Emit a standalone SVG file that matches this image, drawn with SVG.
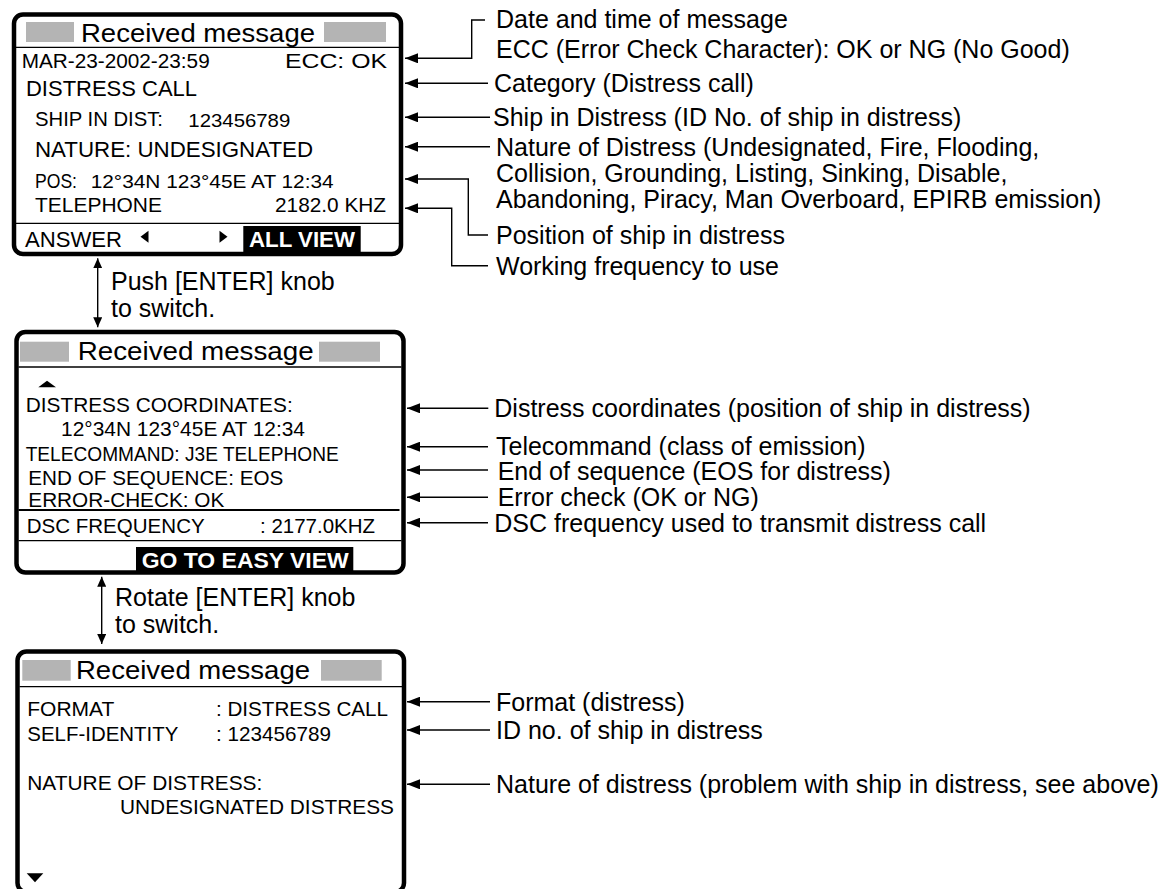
<svg xmlns="http://www.w3.org/2000/svg" width="1170" height="889" viewBox="0 0 1170 889">
<style>
text{font-family:"Liberation Sans",Arial,Helvetica,sans-serif;fill:#000}
.b{font-size:21px}
.ti{font-size:25px}
.an{font-size:25px}
.wb{font-size:22px;font-weight:bold;fill:#fff}
.frame{fill:#fff;stroke:#000;stroke-width:4.5}
.sep{stroke:#000;stroke-width:1.3}
.gray{fill:#b4b4b4}
.conn{fill:none;stroke:#000;stroke-width:1.4}
</style>
<defs>
<marker id="ah" viewBox="0 0 13 10" refX="13" refY="5" markerWidth="13" markerHeight="10" markerUnits="userSpaceOnUse" orient="auto"><path d="M0,0 L13,5 L0,10 z" fill="#000"/></marker>
<marker id="ah2" viewBox="0 0 10 9" refX="10" refY="4.5" markerWidth="10" markerHeight="9" markerUnits="userSpaceOnUse" orient="auto-start-reverse"><path d="M0,0 L10,4.5 L0,9 z" fill="#000"/></marker>
</defs>
<rect width="1170" height="889" fill="#fff"/>

<g id="box1">
<rect class="frame" x="14" y="14.5" width="387" height="239.5" rx="9"/>
<rect class="gray" x="26" y="22" width="48" height="20"/>
<rect class="gray" x="324" y="22" width="62" height="20"/>
<text class="ti" x="81" y="42" textLength="234" lengthAdjust="spacingAndGlyphs">Received message</text>
<line class="sep" x1="16" y1="47.3" x2="399" y2="47.3"/>
<text x="21.7" y="68.3" font-size="20" textLength="188" lengthAdjust="spacingAndGlyphs">MAR-23-2002-23:59</text>
<text x="285" y="68.3" font-size="20" textLength="102" lengthAdjust="spacingAndGlyphs">ECC: OK</text>
<text x="26" y="96" font-size="22" textLength="171" lengthAdjust="spacingAndGlyphs">DISTRESS CALL</text>
<text x="35" y="125.7" font-size="21" textLength="128" lengthAdjust="spacingAndGlyphs">SHIP IN DIST:</text>
<text x="188.3" y="127" font-size="19" textLength="102" lengthAdjust="spacingAndGlyphs">123456789</text>
<text x="35" y="157.3" font-size="22" textLength="278" lengthAdjust="spacingAndGlyphs">NATURE: UNDESIGNATED</text>
<text x="35" y="188.3" font-size="21" textLength="42" lengthAdjust="spacingAndGlyphs">POS:</text>
<text x="90.7" y="188.3" font-size="18" textLength="243" lengthAdjust="spacingAndGlyphs">12°34N 123°45E AT 12:34</text>
<text x="35" y="211.7" font-size="21" textLength="127" lengthAdjust="spacingAndGlyphs">TELEPHONE</text>
<text x="275" y="211.7" font-size="21" textLength="111" lengthAdjust="spacingAndGlyphs">2182.0 KHZ</text>
<line class="sep" x1="16" y1="223.3" x2="399" y2="223.3"/>
<text x="25" y="246.7" font-size="22" textLength="97" lengthAdjust="spacingAndGlyphs">ANSWER</text>
<polygon points="140.5,236.7 148.5,230.7 148.5,242.7" fill="#000"/>
<polygon points="227.5,236.7 219.5,230.7 219.5,242.7" fill="#000"/>
<rect x="243.3" y="226" width="117.4" height="26" fill="#000"/>
<text class="wb" x="249" y="247" textLength="106" lengthAdjust="spacingAndGlyphs">ALL VIEW</text>
</g>

<g id="switch1">
<text class="an" x="111" y="290">Push [ENTER] knob</text>
<text class="an" x="111" y="316.7">to switch.</text>
</g>

<g id="box2">
<rect class="frame" x="16.5" y="332" width="387" height="240.5" rx="9"/>
<rect class="gray" x="20" y="341.7" width="49" height="20"/>
<rect class="gray" x="319" y="341.7" width="61" height="20"/>
<text class="ti" x="77.7" y="360" textLength="236" lengthAdjust="spacingAndGlyphs">Received message</text>
<line class="sep" x1="18.5" y1="367" x2="401.5" y2="367"/>
<polygon points="38.3,387.3 56,387.3 47,380.7" fill="#000"/>
<text class="b" x="25.7" y="411.7" textLength="267" lengthAdjust="spacingAndGlyphs">DISTRESS COORDINATES:</text>
<text class="b" x="61" y="436" textLength="244" lengthAdjust="spacingAndGlyphs">12°34N 123°45E AT 12:34</text>
<text class="b" x="25.7" y="460.7" textLength="313" lengthAdjust="spacingAndGlyphs">TELECOMMAND: J3E TELEPHONE</text>
<text class="b" x="28.3" y="485" textLength="255" lengthAdjust="spacingAndGlyphs">END OF SEQUENCE: EOS</text>
<text class="b" x="28.3" y="506.7" textLength="196" lengthAdjust="spacingAndGlyphs">ERROR-CHECK: OK</text>
<line x1="18.5" y1="510" x2="399.5" y2="510" stroke="#000" stroke-width="2.2"/>
<text class="b" x="26.7" y="532.7" textLength="178" lengthAdjust="spacingAndGlyphs">DSC FREQUENCY</text>
<text class="b" x="260" y="532.7" textLength="115" lengthAdjust="spacingAndGlyphs">: 2177.0KHZ</text>
<line class="sep" x1="18.5" y1="540.7" x2="401.5" y2="540.7"/>
<rect x="136" y="547" width="217.3" height="24" fill="#000"/>
<text class="wb" x="141.7" y="568.3" textLength="207" lengthAdjust="spacingAndGlyphs">GO TO EASY VIEW</text>
</g>

<g id="switch2">
<text class="an" x="115" y="605.7">Rotate [ENTER] knob</text>
<text class="an" x="115" y="633.3">to switch.</text>
</g>

<g id="box3">
<rect class="frame" x="17.5" y="651.5" width="386.5" height="240.5" rx="9"/>
<rect class="gray" x="22.3" y="660" width="48.4" height="20.7"/>
<rect class="gray" x="321" y="660" width="60.7" height="20.7"/>
<text class="ti" x="76" y="679" textLength="234" lengthAdjust="spacingAndGlyphs">Received message</text>
<line class="sep" x1="19.5" y1="686.7" x2="402" y2="686.7"/>
<text class="b" x="27.3" y="715.7">FORMAT</text>
<text class="b" x="216" y="715.7" textLength="172" lengthAdjust="spacingAndGlyphs">: DISTRESS CALL</text>
<text class="b" x="27.3" y="741" textLength="151" lengthAdjust="spacingAndGlyphs">SELF-IDENTITY</text>
<text class="b" x="216" y="741" textLength="115" lengthAdjust="spacingAndGlyphs">: 123456789</text>
<text class="b" x="27.3" y="790" textLength="235" lengthAdjust="spacingAndGlyphs">NATURE OF DISTRESS:</text>
<text class="b" x="120" y="814" textLength="274" lengthAdjust="spacingAndGlyphs">UNDESIGNATED DISTRESS</text>
<polygon points="26.7,873.3 43.3,873.3 35,882.3" fill="#000"/>
</g>

<g id="labels">
<text class="an" x="496" y="28">Date and time of message</text>
<text class="an" x="496" y="58">ECC (Error Check Character): OK or NG (No Good)</text>
<text class="an" x="494" y="92">Category (Distress call)</text>
<text class="an" x="493" y="126">Ship in Distress (ID No. of ship in distress)</text>
<text class="an" x="496" y="156">Nature of Distress (Undesignated, Fire, Flooding,</text>
<text class="an" x="496" y="182">Collision, Grounding, Listing, Sinking, Disable,</text>
<text class="an" x="496" y="208">Abandoning, Piracy, Man Overboard, EPIRB emission)</text>
<text class="an" x="496" y="244">Position of ship in distress</text>
<text class="an" x="496" y="275">Working frequency to use</text>
<text class="an" x="494.3" y="417">Distress coordinates (position of ship in distress)</text>
<text class="an" x="496" y="454.5">Telecommand (class of emission)</text>
<text class="an" x="497.7" y="480">End of sequence (EOS for distress)</text>
<text class="an" x="497.7" y="506">Error check (OK or NG)</text>
<text class="an" x="494.3" y="532">DSC frequency used to transmit distress call</text>
<text class="an" x="496" y="711">Format (distress)</text>
<text class="an" x="496" y="739">ID no. of ship in distress</text>
<text class="an" x="496" y="793">Nature of distress (problem with ship in distress, see above)</text>
</g>

<g id="connectors">
<line class="conn" x1="97.7" y1="258.3" x2="97.7" y2="327.3" marker-start="url(#ah2)" marker-end="url(#ah2)"/>
<line class="conn" x1="101.7" y1="576.7" x2="101.7" y2="644" marker-start="url(#ah2)" marker-end="url(#ah2)"/>
<path class="conn" d="M485,20 H471.7 V58.3 H405" marker-end="url(#ah)"/>
<path class="conn" d="M488,83.3 H405" marker-end="url(#ah)"/>
<path class="conn" d="M490,117.3 H405" marker-end="url(#ah)"/>
<path class="conn" d="M490,146.7 H405" marker-end="url(#ah)"/>
<path class="conn" d="M488,235 H468.3 V179 H405" marker-end="url(#ah)"/>
<path class="conn" d="M488,265.7 H451.7 V208.3 H405" marker-end="url(#ah)"/>
<path class="conn" d="M488.3,408.3 H407" marker-end="url(#ah)"/>
<path class="conn" d="M488,446.7 H407" marker-end="url(#ah)"/>
<path class="conn" d="M488,470 H407" marker-end="url(#ah)"/>
<path class="conn" d="M488,497.3 H407" marker-end="url(#ah)"/>
<path class="conn" d="M488,522.7 H407" marker-end="url(#ah)"/>
<path class="conn" d="M490,701.7 H407" marker-end="url(#ah)"/>
<path class="conn" d="M490,730 H407" marker-end="url(#ah)"/>
<path class="conn" d="M490,784.3 H407" marker-end="url(#ah)"/>
</g>
</svg>
